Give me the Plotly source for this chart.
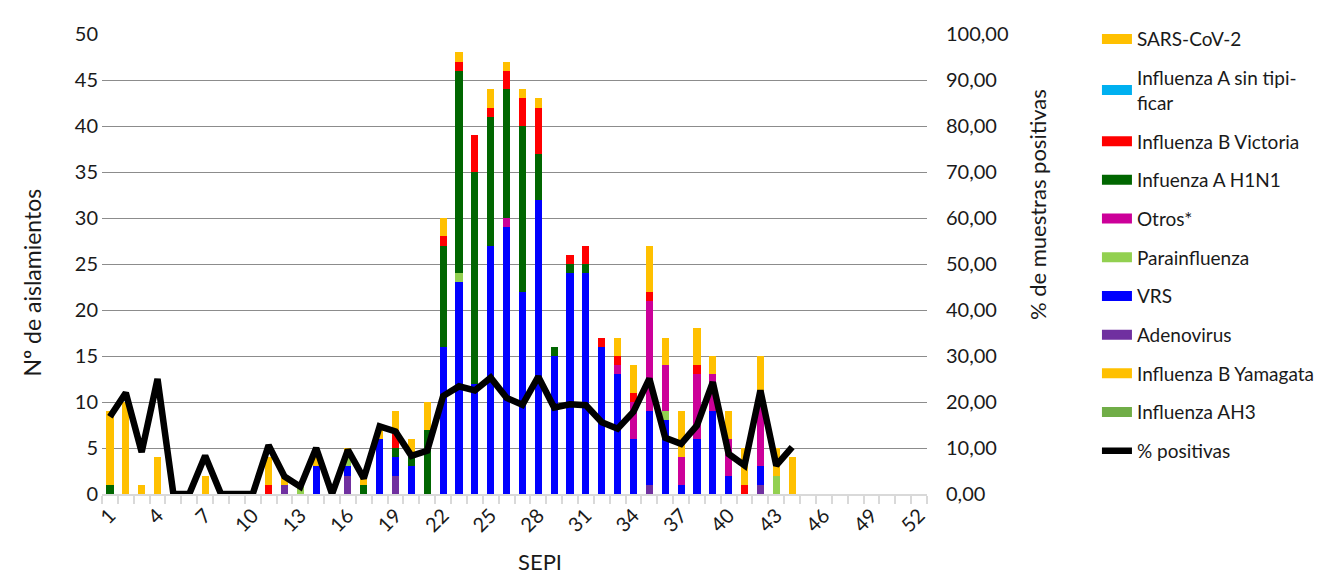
import plotly.graph_objects as go

# SEPI (semanas epidemiológicas)
weeks = list(range(1, 53))
tick_weeks = [1, 4, 7, 10, 13, 16, 19, 22, 25, 28, 31, 34, 37, 40, 43, 46, 49, 52]

# Nº de aislamientos por semana (semanas 1..52)
sars_cov2 = [8, 10, 1, 4, 0, 0, 2, 0, 0, 0,
             3, 1, 0, 1, 0, 1, 1, 1, 2, 2,
             3, 2, 1, 0, 2, 1, 1, 1, 0, 0,
             0, 0, 2, 3, 5, 3, 5, 4, 2, 3,
             4, 5, 3, 4, 0, 0, 0, 0, 0, 0,
             0, 0]
flu_a_sin_tip = [0, 0, 0, 0, 0, 0, 0, 0, 0, 0,
                 0, 0, 0, 0, 0, 0, 0, 0, 0, 0,
                 0, 0, 0, 0, 0, 0, 0, 0, 0, 0,
                 0, 0, 0, 0, 0, 0, 0, 0, 0, 0,
                 0, 0, 0, 0, 0, 0, 0, 0, 0, 0,
                 0, 0]
flu_b_victoria = [0, 0, 0, 0, 0, 0, 0, 0, 0, 0,
                  1, 0, 0, 0, 0, 0, 0, 0, 2, 0,
                  0, 1, 1, 4, 1, 2, 3, 5, 0, 1,
                  2, 1, 1, 1, 1, 0, 0, 1, 0, 0,
                  1, 0, 0, 0, 0, 0, 0, 0, 0, 0,
                  0, 0]
flu_a_h1n1 = [1, 0, 0, 0, 0, 0, 0, 0, 0, 0,
              0, 0, 0, 0, 0, 0, 1, 0, 1, 1,
              7, 11, 22, 23, 14, 14, 18, 5, 1, 1,
              1, 0, 0, 0, 0, 0, 0, 0, 0, 0,
              0, 0, 0, 0, 0, 0, 0, 0, 0, 0,
              0, 0]
otros = [0, 0, 0, 0, 0, 0, 0, 0, 0, 0,
         0, 0, 0, 0, 0, 0, 0, 0, 0, 0,
         0, 0, 0, 0, 0, 1, 0, 0, 0, 0,
         0, 0, 1, 4, 12, 5, 3, 7, 4, 4,
         0, 7, 0, 0, 0, 0, 0, 0, 0, 0,
         0, 0]
parainfluenza = [0, 0, 0, 0, 0, 0, 0, 0, 0, 0,
                 0, 0, 1, 0, 0, 1, 0, 0, 0, 0,
                 0, 0, 1, 0, 0, 0, 0, 0, 0, 0,
                 0, 0, 0, 0, 0, 1, 0, 0, 0, 0,
                 0, 0, 2, 0, 0, 0, 0, 0, 0, 0,
                 0, 0]
vrs = [0, 0, 0, 0, 0, 0, 0, 0, 0, 0,
       0, 0, 0, 3, 0, 1, 0, 6, 2, 3,
       0, 16, 23, 12, 27, 29, 22, 32, 15, 24,
       24, 16, 13, 6, 8, 8, 1, 6, 9, 2,
       0, 2, 0, 0, 0, 0, 0, 0, 0, 0,
       0, 0]
adenovirus = [0, 0, 0, 0, 0, 0, 0, 0, 0, 0,
              0, 1, 0, 0, 0, 2, 0, 0, 2, 0,
              0, 0, 0, 0, 0, 0, 0, 0, 0, 0,
              0, 0, 0, 0, 1, 0, 0, 0, 0, 0,
              0, 1, 0, 0, 0, 0, 0, 0, 0, 0,
              0, 0]
flu_b_yamagata = [0, 0, 0, 0, 0, 0, 0, 0, 0, 0,
                  0, 0, 0, 0, 0, 0, 0, 0, 0, 0,
                  0, 0, 0, 0, 0, 0, 0, 0, 0, 0,
                  0, 0, 0, 0, 0, 0, 0, 0, 0, 0,
                  0, 0, 0, 0, 0, 0, 0, 0, 0, 0,
                  0, 0]
flu_ah3 = [0, 0, 0, 0, 0, 0, 0, 0, 0, 0,
           0, 0, 0, 0, 0, 0, 0, 0, 0, 0,
           0, 0, 0, 0, 0, 0, 0, 0, 0, 0,
           0, 0, 0, 0, 0, 0, 0, 0, 0, 0,
           0, 0, 0, 0, 0, 0, 0, 0, 0, 0,
           0, 0]

# % de muestras positivas (hasta la semana 44)
pct_positivas = [16.8, 22.0, 9.1, 25.0, 0, 0, 8.3, 0, 0, 0,
                 10.6, 3.8, 1.6, 10.0, 0, 9.6, 3.4, 14.7, 13.6, 8.3,
                 9.4, 21.3, 23.4, 22.5, 25.3, 20.9, 19.4, 25.5, 18.8, 19.5,
                 19.3, 15.6, 14.2, 17.9, 25.1, 12.2, 10.9, 14.9, 24.3, 8.7,
                 6.2, 22.5, 6.2, 10.2]

# de abajo hacia arriba en la pila
series = [
    ("Influenza AH3", flu_ah3, "#70AD47"),
    ("Influenza B Yamagata", flu_b_yamagata, "#FFC000"),
    ("Adenovirus", adenovirus, "#7030A0"),
    ("VRS", vrs, "#0000FF"),
    ("Parainfluenza", parainfluenza, "#92D050"),
    ("Otros*", otros, "#CC0099"),
    ("Infuenza A H1N1", flu_a_h1n1, "#006600"),
    ("Influenza B Victoria", flu_b_victoria, "#FF0000"),
    ("Influenza A sin tipi-<br>ficar", flu_a_sin_tip, "#00B0F0"),
    ("SARS-CoV-2", sars_cov2, "#FFC000"),
]

fig = go.Figure()

for name, vals, color in series:
    fig.add_trace(go.Bar(x=weeks, y=vals, name=name, marker_color=color,
                         marker_line_width=0, showlegend=False))

# entradas de leyenda (barras anchas como en Excel)
for name, vals, color in reversed(series):
    fig.add_trace(go.Scatter(x=[None], y=[None], mode="lines", name=name,
                             legendgroup=name,
                             line=dict(color=color, width=10)))

fig.add_trace(go.Scatter(x=weeks[:len(pct_positivas)], y=pct_positivas,
                         mode="lines", name="% positivas", legendgroup="pct",
                         line=dict(color="black", width=6.5), yaxis="y2"))

fig.update_layout(
    width=1343, height=576,
    barmode="stack", bargap=0.55,
    plot_bgcolor="white", paper_bgcolor="white",
    separators=",.",
    font=dict(family="Lato, 'Open Sans', sans-serif", size=20, color="#1a1a1a"),
    margin=dict(l=94, r=424, t=15, b=90),
    xaxis=dict(range=[0.5, 52.5], tickmode="array", tickvals=tick_weeks,
               tickangle=-45, ticks="", showgrid=False, zeroline=False,
               showline=True, linecolor="#d9d9d9", linewidth=2,
               minor=dict(tick0=0.5, dtick=1, ticks="outside", ticklen=8,
                          tickcolor="#d9d9d9", tickwidth=2, showgrid=False)),
    yaxis=dict(range=[0, 50], dtick=5, showgrid=True, gridcolor="#8c8c8c",
               gridwidth=1.3, zeroline=False, ticks="", ticklabelstandoff=3),
    yaxis2=dict(range=[0, 100], dtick=10, tickformat=".2f", overlaying="y",
                side="right", showgrid=False, zeroline=False, ticks="",
                ticklabelstandoff=18),
    legend=dict(x=1.206, y=1.03, xanchor="left", yanchor="top",
                traceorder="grouped", tracegroupgap=11, maxheight=576,
                font=dict(size=19), itemwidth=30),
    annotations=[
        dict(text="Nº de aislamientos", xref="paper", yref="paper",
             x=-0.104, y=0.46, textangle=-90, showarrow=False,
             font=dict(size=23)),
        dict(text="% de muestras positivas", xref="paper", yref="paper",
             x=1.152, y=0.63, textangle=-90, showarrow=False,
             font=dict(size=22)),
        dict(text="SEPI", xref="paper", yref="paper", x=0.531, y=-0.18,
             showarrow=False, font=dict(size=22)),
    ],
)

fig.write_html("out.html")
